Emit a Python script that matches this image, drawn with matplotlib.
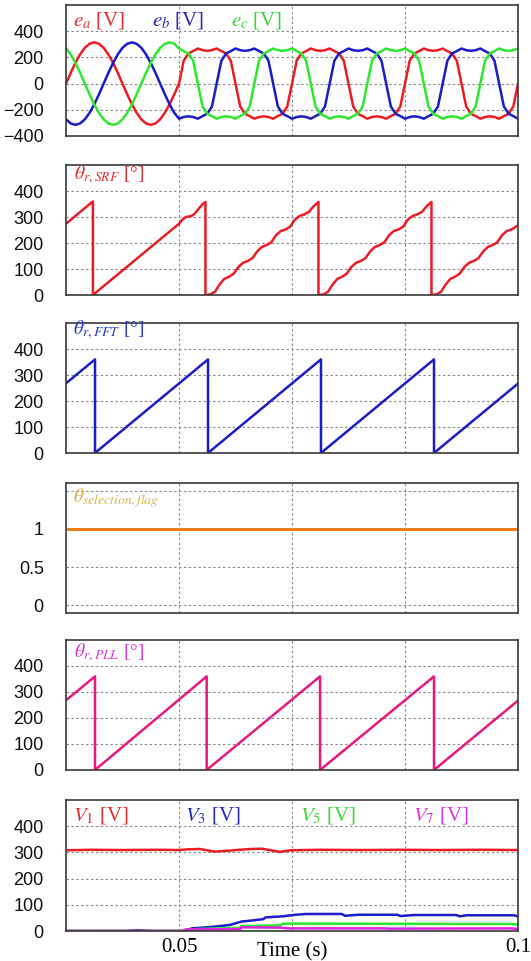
import numpy as np
import matplotlib
matplotlib.use("Agg")
import matplotlib.pyplot as plt

plt.rcParams["mathtext.fontset"] = "stix"
plt.rcParams["font.family"] = ["Liberation Sans", "DejaVu Sans"]

# ---- data ----
T0, T1 = 0.03333, 0.1
grid_times = [0.05, 0.06667, 0.08333]
xtick_vals = [0.05, 0.1]
xtick_labels = ["0.05", "0.1"]

# phase voltages, sampled every 15 deg of the 60 Hz fundamental
t_e = np.linspace(T0, T1, 97)
e_a = [0, 82, 158, 223, 273, 304, 315, 304, 273, 223, 158, 82, 0, -82, -158, -223, -273, -304, -315, -304, -273, -223, -158, -82,
       0, 175, 230, 248, 268, 255, 250, 255, 268, 248, 230, 175, 0, -175, -230, -248, -268, -255, -250, -255, -268, -248, -230, -175,
       0, 175, 230, 248, 268, 255, 250, 255, 268, 248, 230, 175, 0, -175, -230, -248, -268, -255, -250, -255, -268, -248, -230, -175,
       0, 175, 230, 248, 268, 255, 250, 255, 268, 248, 230, 175, 0, -175, -230, -248, -268, -255, -250, -255, -268, -248, -230, -175,
       0]
e_b = [-273, -304, -315, -304, -273, -223, -158, -82, 0, 82, 158, 223, 273, 304, 315, 304, 273, 223, 158, 82, 0, -82, -158, -223,
       -268, -255, -250, -255, -268, -248, -230, -175, 0, 175, 230, 248, 268, 255, 250, 255, 268, 248, 230, 175, 0, -175, -230, -248,
       -268, -255, -250, -255, -268, -248, -230, -175, 0, 175, 230, 248, 268, 255, 250, 255, 268, 248, 230, 175, 0, -175, -230, -248,
       -268, -255, -250, -255, -268, -248, -230, -175, 0, 175, 230, 248, 268, 255, 250, 255, 268, 248, 230, 175, 0, -175, -230, -248,
       -268]
e_c = [273, 223, 158, 82, 0, -82, -158, -223, -273, -304, -315, -304, -273, -223, -158, -82, 0, 82, 158, 223, 273, 304, 315, 304,
       268, 248, 230, 175, 0, -175, -230, -248, -268, -255, -250, -255, -268, -248, -230, -175, 0, 175, 230, 248, 268, 255, 250, 255,
       268, 248, 230, 175, 0, -175, -230, -248, -268, -255, -250, -255, -268, -248, -230, -175, 0, 175, 230, 248, 268, 255, 250, 255,
       268, 248, 230, 175, 0, -175, -230, -248, -268, -255, -250, -255, -268, -248, -230, -175, 0, 175, 230, 248, 268, 255, 250, 255,
       268]

# SRF angle (deg)
srf_t = [0.03333, 0.0373, 0.0373, 0.0500, 0.0505, 0.0510, 0.0515, 0.0520, 0.0525, 0.0530, 0.0535, 0.0539,
         0.05390, 0.05459, 0.05529, 0.05598, 0.05668, 0.05737, 0.05807, 0.05876, 0.05946, 0.06015, 0.06084, 0.06154, 0.06223,
         0.06293, 0.06362, 0.06432, 0.06501, 0.06571, 0.06640, 0.06709, 0.06779, 0.06848, 0.06918, 0.06987, 0.07057,
         0.07057, 0.07126, 0.07196, 0.07265, 0.07335, 0.07404, 0.07474, 0.07543, 0.07613, 0.07682, 0.07751, 0.07821, 0.07890,
         0.07960, 0.08029, 0.08099, 0.08168, 0.08238, 0.08307, 0.08376, 0.08446, 0.08515, 0.08585, 0.08654, 0.08724,
         0.08724, 0.08793, 0.08863, 0.08932, 0.09001, 0.09071, 0.09140, 0.09210, 0.09279, 0.09349, 0.09418, 0.09488, 0.09557,
         0.09626, 0.09696, 0.09765, 0.09835, 0.09904, 0.09974, 0.1]
srf_v = [274, 360, 0, 274, 290, 300, 302, 306, 318, 335, 350, 358,
         0, 2, 12, 40, 62, 70, 82, 108, 124, 131, 142, 168, 185, 192, 203, 230, 246, 252, 263, 290, 304, 310, 320, 342, 358,
         0, 2, 12, 40, 62, 70, 82, 108, 124, 131, 142, 168, 185, 192, 203, 230, 246, 252, 263, 290, 304, 310, 320, 342, 358,
         0, 2, 12, 40, 62, 70, 82, 108, 124, 131, 142, 168, 185, 192, 203, 230, 246, 252, 263, 268]

# FFT angle (deg)
fft_t = [0.03333, 0.03761, 0.03761, 0.05428, 0.05428, 0.07094, 0.07094, 0.08761, 0.08761, 0.1]
fft_v = [268, 360, 0, 360, 0, 360, 0, 360, 0, 267]

# selection flag
flag_t = [0.03333, 0.1]
flag_v = [1, 1]

# PLL angle (deg)
pll_t = [0.03333, 0.03761, 0.03761, 0.05408, 0.05408, 0.07080, 0.07080, 0.08761, 0.08761, 0.1]
pll_v = [268, 360, 0, 360, 0, 360, 0, 360, 0, 267]

# harmonic magnitudes (V)
v1_t = [0.03333, 0.0369, 0.0413, 0.0472, 0.0499, 0.0516, 0.0531, 0.0546, 0.0553, 0.0575, 0.0605, 0.0622, 0.0642,
        0.0649, 0.0664, 0.0708, 0.0767, 0.0826, 0.0885, 0.0944, 0.1]
v1_v = [308, 310, 309, 310, 309, 312, 313, 306, 303, 307, 313, 314, 305, 302, 308, 310, 309, 310, 309, 310, 309]
v3_t = [0.03333, 0.0420, 0.0440, 0.0460, 0.0507, 0.0519, 0.0546, 0.0575, 0.0592, 0.0600, 0.0624, 0.0628, 0.0653,
        0.0672, 0.0687, 0.0740, 0.0745, 0.0764, 0.0822, 0.0827, 0.0846, 0.0909, 0.0914, 0.0924, 0.0994, 0.1]
v3_v = [0, 0, 3, 0, 0, 10, 15, 23, 36, 38, 45, 52, 56, 62, 65, 65, 58, 62, 62, 57, 61, 61, 56, 60, 60, 56]
v5_t = [0.03333, 0.0507, 0.0510, 0.0530, 0.0575, 0.0590, 0.0592, 0.0640, 0.0650, 0.0653, 0.0990, 0.1]
v5_v = [0, 0, 4, 8, 11, 12, 19, 21, 22, 28, 27, 24]
v7_t = [0.03333, 0.0505, 0.0510, 0.0590, 0.0592, 0.0650, 0.0660, 0.0800, 0.0810, 0.0990, 0.1]
v7_v = [0, 0, 6, 7, 14, 13, 10, 10, 9, 10, 8]

# ---- styling ----
RED = "#ec1c24"
BLUE = "#1c1cc8"
GREEN = "#2ee82e"
MAGENTA = "#e020e0"
PINK = "#e8197c"
ORANGE = "#f07d1a"

fig = plt.figure(figsize=(5.31, 9.61), dpi=100)
left, width = 66 / 531, 452 / 531
# (top px, bottom px) of each panel
panel_px = [(5, 136), (165, 295), (323, 453), (483, 613), (640, 770), (800, 931)]
axes = []
for top, bot in panel_px:
    ax = fig.add_axes([left, (961 - bot) / 961, width, (bot - top) / 961])
    ax.set_xlim(T0, T1)
    ax.set_xticks(grid_times)
    ax.tick_params(axis="x", length=0, labelbottom=False)
    ax.tick_params(axis="y", length=0, pad=16, labelsize=13, labelcolor="#111111")
    ax.grid(True, color="#8c8c8c", linestyle=(0, (2.2, 2.2)), linewidth=0.8)
    ax.set_axisbelow(True)
    for sp in ax.spines.values():
        sp.set_color("#3a3a3a")
        sp.set_linewidth(1.2)
    axes.append(ax)

serif = "Liberation Serif"
lw = 1.8


def label(ax, x, y, s, color, size=15):
    ax.text(x, y, s, transform=ax.transAxes, color=color, fontsize=size,
            family=serif, va="baseline", ha="left")


# panel 1: phase voltages
ax = axes[0]
ax.plot(t_e, e_a, color=RED, lw=lw)
ax.plot(t_e, e_b, color=BLUE, lw=lw)
ax.plot(t_e, e_c, color=GREEN, lw=lw)
ax.set_ylim(-400, 600)
ax.set_yticks([-400, -200, 0, 200, 400])
label(ax, 0.0155, 0.847, r"$e_a$ [V]", "#e03030")
label(ax, 0.190, 0.847, r"$e_b$ [V]", "#2a2ab8")
label(ax, 0.365, 0.847, r"$e_c$ [V]", "#3ad83a")

# panel 2: SRF angle
ax = axes[1]
ax.plot(srf_t, srf_v, color=RED, lw=lw)
ax.set_ylim(0, 500)
ax.set_yticks([0, 100, 200, 300, 400])
label(ax, 0.018, 0.89, r"$\theta_{r,SRF}$ [°]", "#e03030", 14)

# panel 3: FFT angle
ax = axes[2]
ax.plot(fft_t, fft_v, color=BLUE, lw=lw)
ax.set_ylim(0, 500)
ax.set_yticks([0, 100, 200, 300, 400])
label(ax, 0.0155, 0.915, r"$\theta_{r,FFT}$ [°]", "#2a3ac8", 14)

# panel 4: selection flag
ax = axes[3]
ax.plot(flag_t, flag_v, color=ORANGE, lw=2.2)
ax.set_ylim(-0.1, 1.6)
ax.set_yticks([0, 0.5, 1, 1.5], ["0", "0.5", "1", ""])
label(ax, 0.0155, 0.854, r"$\theta_{selection,flag}$", "#d8b448", 14)

# panel 5: PLL angle
ax = axes[4]
ax.plot(pll_t, pll_v, color=PINK, lw=lw)
ax.set_ylim(0, 500)
ax.set_yticks([0, 100, 200, 300, 400])
label(ax, 0.018, 0.87, r"$\theta_{r,PLL}$ [°]", "#d838d8", 14)

# panel 6: harmonic magnitudes
ax = axes[5]
ax.plot(v1_t, v1_v, color=RED, lw=lw)
ax.plot(v3_t, v3_v, color=BLUE, lw=lw)
ax.plot(v5_t, v5_v, color=GREEN, lw=lw)
ax.plot(v7_t, v7_v, color=MAGENTA, lw=lw)
ax.set_ylim(0, 500)
ax.set_yticks([0, 100, 200, 300, 400])
label(ax, 0.0155, 0.847, r"$V_{\mathit{1}}$ [V]", "#e03030")
label(ax, 0.263, 0.847, r"$V_{\mathit{3}}$ [V]", "#2a2ab8")
label(ax, 0.518, 0.847, r"$V_{\mathit{5}}$ [V]", "#3ad83a")
label(ax, 0.768, 0.847, r"$V_{\mathit{7}}$ [V]", "#d838d8")
ax.xaxis.remove_overlapping_locs = False
ax.set_xticks(xtick_vals, xtick_labels, minor=True)
ax.tick_params(axis="x", which="minor", length=0, labelbottom=True, labelsize=15, pad=5)
for lbl in ax.get_xticklabels(minor=True):
    lbl.set_family(serif)
ax.annotate("Time (s)", xy=(0.5, 0), xycoords="axes fraction", xytext=(0, -18),
            textcoords="offset points", ha="center", va="baseline",
            fontsize=15, family=serif)

fig.savefig("out.png", dpi=100)
